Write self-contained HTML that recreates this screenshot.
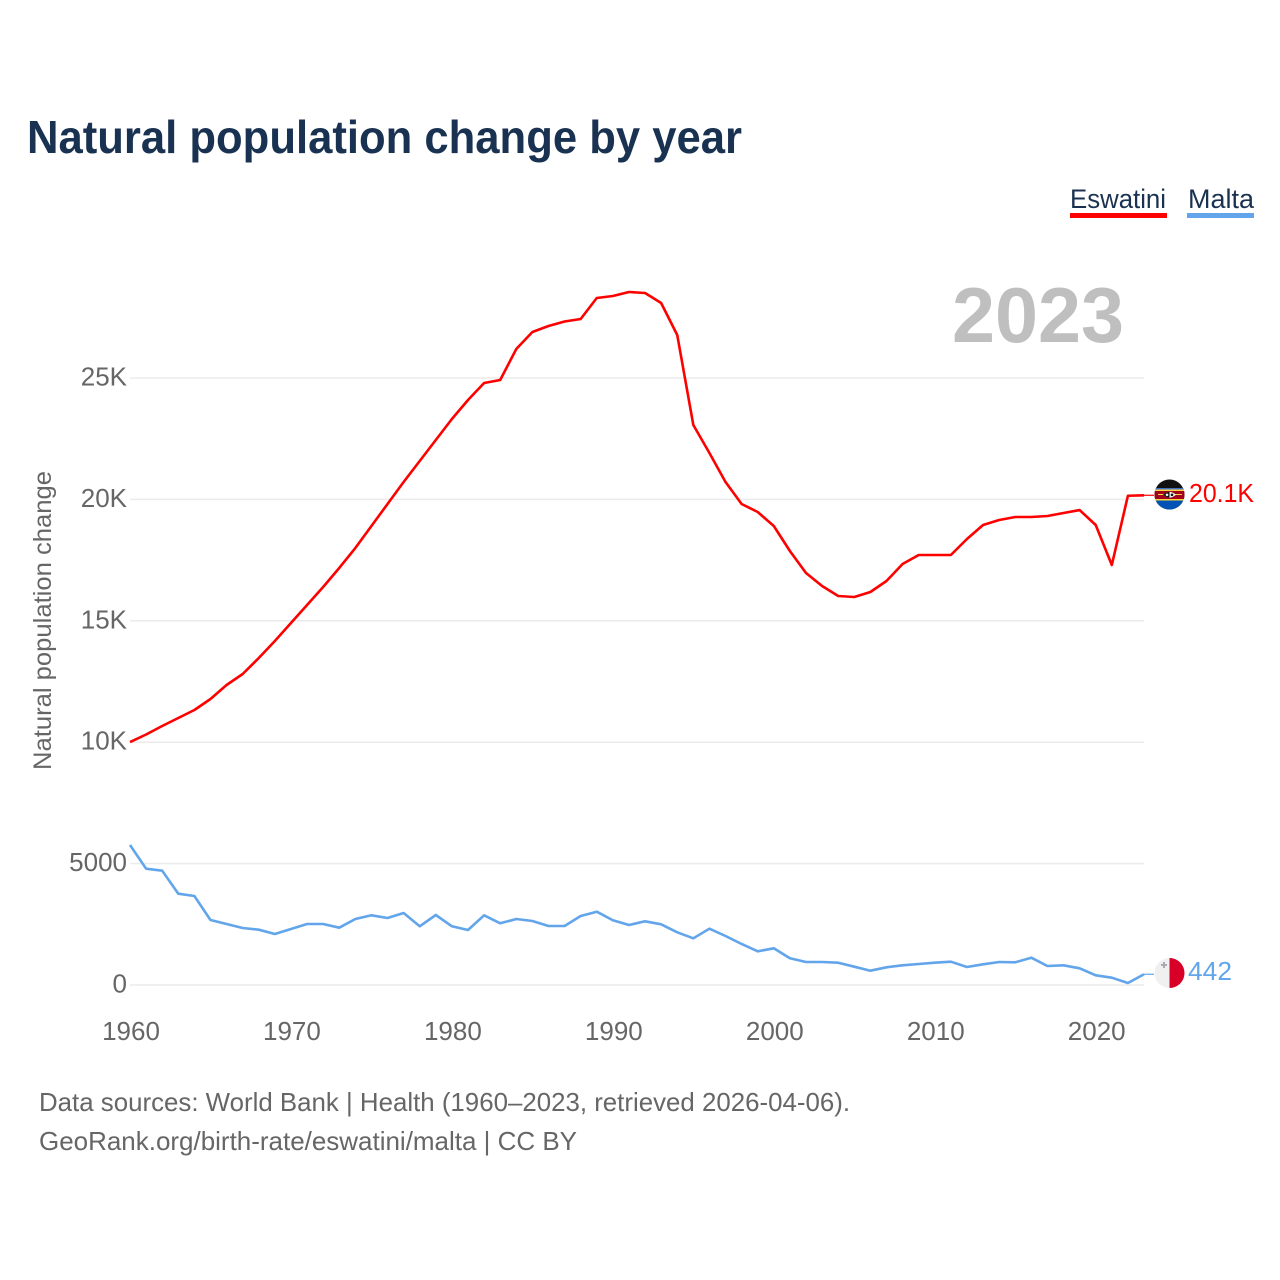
<!DOCTYPE html>
<html>
<head>
<meta charset="utf-8">
<title>Natural population change by year</title>
<style>
html,body{margin:0;padding:0;background:#fff;}
svg{display:block;font-family:"Liberation Sans",sans-serif;}
</style>
</head>
<body>
<svg id="chart" width="1280" height="1280" viewBox="0 0 1280 1280" xmlns="http://www.w3.org/2000/svg">
  <defs>
    <clipPath id="clip-flag-sz"><circle cx="1169.5" cy="494.5" r="15"/></clipPath>
    <clipPath id="clip-flag-mt"><circle cx="1169.5" cy="973" r="15"/></clipPath>
  </defs>
  <text x="27" y="153" font-size="46" font-weight="700" fill="#1a3251" textLength="715" lengthAdjust="spacingAndGlyphs">Natural population change by year</text>

  <g>
    <text x="1070" y="208" font-size="27" fill="#1a3251" textLength="96" lengthAdjust="spacingAndGlyphs">Eswatini</text>
    <rect x="1070" y="213" width="97" height="5" fill="#ff0000"/>
  </g>
  <g>
    <text x="1188" y="208" font-size="27" fill="#1a3251" textLength="66" lengthAdjust="spacingAndGlyphs">Malta</text>
    <rect x="1187" y="213" width="67" height="5" fill="#62a5eb"/>
  </g>

  <text x="952" y="342" font-size="78" font-weight="700" fill="#bfbfbf" textLength="172" lengthAdjust="spacingAndGlyphs">2023</text>

  <g id="grid"></g>
  <g id="yticks"></g>
  <g id="xticks"></g>

  <text transform="translate(51,770) rotate(-90)" font-size="25" fill="#666666" textLength="299" lengthAdjust="spacingAndGlyphs">Natural population change</text>

  <g id="series"></g>

  <g clip-path="url(#clip-flag-sz)">
    <rect x="1154" y="479" width="31" height="31" fill="#111111"/>
    <rect x="1154" y="488" width="31" height="2" fill="#3f6fc0"/>
    <rect x="1154" y="489.5" width="31" height="1.5" fill="#ffd83d"/>
    <rect x="1154" y="491" width="31" height="8" fill="#a2001d"/>
    <rect x="1154" y="499" width="31" height="1.5" fill="#ffd83d"/>
    <rect x="1154" y="500.5" width="31" height="10" fill="#0052b4"/>
    <rect x="1158" y="494" width="24" height="1" fill="#ffd83d"/>
    <path d="M1163 494.8 Q1169.5 489 1176 494.8 Q1169.5 500.6 1163 494.8 Z" fill="#f0f0f0"/>
    <path d="M1163 494.8 Q1166 492 1169.5 491.8 L1169.5 497.8 Q1166 497.6 1163 494.8 Z" fill="#111111"/>
    <circle cx="1167" cy="494.8" r="1.3" fill="#f0f0f0"/>
    <circle cx="1172" cy="494.8" r="1.3" fill="#111111"/>
  </g>
  <g clip-path="url(#clip-flag-mt)">
    <rect x="1154" y="957" width="15.5" height="32" fill="#f0f0f0"/>
    <rect x="1169.5" y="957" width="15.5" height="32" fill="#d80027"/>
    <rect x="1163" y="962" width="2" height="6" fill="#acabb1"/>
    <rect x="1161" y="964" width="6" height="2" fill="#acabb1"/>
  </g>

  <text x="1189" y="502" font-size="26" fill="#ff0000" textLength="65" lengthAdjust="spacingAndGlyphs">20.1K</text>
  <text x="1188" y="980" font-size="26" fill="#62a5eb" textLength="44" lengthAdjust="spacingAndGlyphs">442</text>

  <text x="39" y="1111" font-size="26" fill="#666666" textLength="811" lengthAdjust="spacingAndGlyphs">Data sources: World Bank | Health (1960–2023, retrieved 2026-04-06).</text>
  <text x="39" y="1150" font-size="26" fill="#666666" textLength="538" lengthAdjust="spacingAndGlyphs">GeoRank.org/birth-rate/eswatini/malta | CC BY</text>
</svg>
<script>
var startYear = 1960;
var endYear = 2023;
var yTickValues = [0, 5000, 10000, 15000, 20000, 25000];
var yTickLabels = ['0', '5000', '10K', '15K', '20K', '25K'];
var xTickYears = [1960, 1970, 1980, 1990, 2000, 2010, 2020];
var eswatiniValues = [10008,10317,10667,10997,11326,11779,12356,12809,13468,14168,14910,15651,16392,17175,17998,18904,19811,20717,21582,22446,23311,24094,24794,24918,26194,26895,27142,27327,27430,28295,28377,28542,28501,28089,26771,23064,21911,20717,19811,19481,18904,17875,16969,16433,16021,15980,16186,16639,17339,17710,17710,17710,18369,18946,19151,19275,19275,19316,19440,19560,18946,17298,20150,20170];
var maltaValues = [5766,4790,4708,3760,3666,2677,2512,2348,2278,2100,2306,2512,2512,2360,2718,2871,2760,2965,2418,2883,2418,2265,2871,2541,2718,2636,2430,2430,2842,3019,2665,2471,2624,2500,2171,1923,2319,2018,1689,1388,1512,1100,947,947,918,754,589,729,811,865,918,960,741,853,947,935,1124,783,811,688,400,301,82,442];

var NS = 'http://www.w3.org/2000/svg';
function xScale(year) {
  return 130 + (year - startYear) * (1144 - 130) / (endYear - startYear);
}
function yScale(value) {
  return 985 - value * (985 - 378) / 25000;
}
function pathFrom(values) {
  var d = '';
  for (var i = 0; i < values.length; i++) {
    d += (i ? 'L' : 'M') + xScale(startYear + i).toFixed(2) + ' ' + yScale(values[i]).toFixed(2);
  }
  return d;
}

var grid = document.getElementById('grid');
var yticks = document.getElementById('yticks');
var xticks = document.getElementById('xticks');
var series = document.getElementById('series');

yTickValues.forEach(function (v, i) {
  var line = document.createElementNS(NS, 'line');
  
  
  line.setAttribute('x1', 130);
  line.setAttribute('x2', 1144);
  line.setAttribute('y1', yScale(v));
  line.setAttribute('y2', yScale(v));
  line.setAttribute('stroke', '#ebebeb');
  line.setAttribute('stroke-width', '1.5');
  grid.appendChild(line);

  var t = document.createElementNS(NS, 'text');
  
  
  t.setAttribute('x', 127);
  t.setAttribute('y', yScale(v) + 7.5);
  t.setAttribute('text-anchor', 'end');
  t.setAttribute('font-size', '26');
  t.setAttribute('fill', '#666666');
  t.textContent = yTickLabels[i];
  yticks.appendChild(t);
});

xTickYears.forEach(function (year) {
  var t = document.createElementNS(NS, 'text');
  
  
  t.setAttribute('x', xScale(year) + 1);
  t.setAttribute('y', 1040);
  t.setAttribute('text-anchor', 'middle');
  t.setAttribute('font-size', '26');
  t.setAttribute('fill', '#666666');
  t.textContent = String(year);
  xticks.appendChild(t);
});

function addSeries(values, color, lineName, connectorName) {
  var p = document.createElementNS(NS, 'path');
  
  
  p.setAttribute('d', pathFrom(values));
  p.setAttribute('fill', 'none');
  p.setAttribute('stroke', color);
  p.setAttribute('stroke-width', '2.6');
  p.setAttribute('stroke-linejoin', 'round');
  series.appendChild(p);

  var last = yScale(values[values.length - 1]);
  var c = document.createElementNS(NS, 'line');
  
  
  c.setAttribute('x1', xScale(endYear));
  c.setAttribute('x2', xScale(endYear) + 10);
  c.setAttribute('y1', last);
  c.setAttribute('y2', last);
  c.setAttribute('stroke', color);
  c.setAttribute('stroke-width', '1.2');
  series.appendChild(c);
}
addSeries(maltaValues, '#62a5eb', 'line-malta', 'connector-malta');
addSeries(eswatiniValues, '#ff0000', 'line-eswatini', 'connector-eswatini');
</script>
</body>
</html>
